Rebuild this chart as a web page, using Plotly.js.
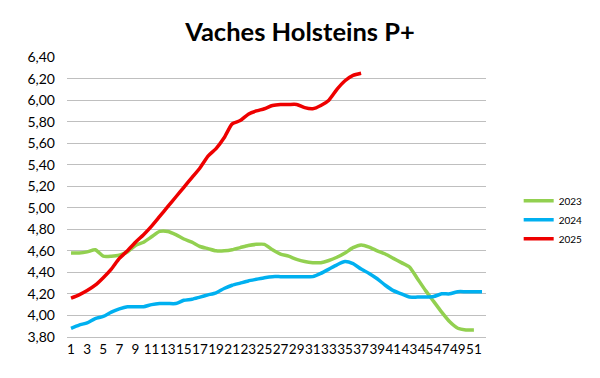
<!DOCTYPE html>
<html>
<head>
<meta charset="utf-8">
<script src="https://cdn.plot.ly/plotly-3.0.1.min.js"></script>
<style>html,body{margin:0;padding:0;background:#fff;}#chart{width:600px;height:378px;}</style>
</head>
<body>
<div id="chart"></div>
<script>
// Weeks
const weeks = Array.from({length: 52}, (_, i) => i + 1);
const tickWeeks = [1,3,5,7,9,11,13,15,17,19,21,23,25,27,29,31,33,35,37,39,41,43,45,47,49,51];

const seriesNames = ['2023', '2024', '2025'];

const values2023 = [4.58,4.58,4.59,4.61,4.55,4.55,4.56,4.59,4.65,4.68,
  4.73,4.78,4.78,4.75,4.71,4.68,4.64,4.62,4.60,4.60,
  4.61,4.63,4.65,4.66,4.66,4.61,4.57,4.55,4.52,4.50,
  4.49,4.49,4.51,4.54,4.58,4.63,4.655,4.635,4.60,4.57,
  4.53,4.49,4.45,4.34,4.23,4.13,4.03,3.94,3.88,3.865,3.865];

const values2024 = [3.88,3.91,3.93,3.97,3.99,4.03,4.06,4.08,4.08,4.08,
  4.10,4.11,4.11,4.11,4.14,4.15,4.17,4.19,4.21,4.25,
  4.28,4.30,4.32,4.335,4.35,4.36,4.36,4.36,4.36,4.36,
  4.36,4.39,4.43,4.47,4.50,4.48,4.43,4.39,4.34,4.28,
  4.23,4.20,4.17,4.17,4.17,4.175,4.20,4.20,4.22,4.22,4.22,4.22];

const values2025 = [4.16,4.19,4.23,4.28,4.35,4.43,4.53,4.60,4.68,4.75,
  4.83,4.92,5.01,5.10,5.19,5.28,5.37,5.48,5.55,5.65,
  5.78,5.81,5.87,5.90,5.92,5.95,5.96,5.96,5.96,5.93,
  5.92,5.95,6.00,6.10,6.18,6.23,6.25];

const colors = ['#92D050', '#00B0F0', '#EE0000'];
const allValues = [values2023, values2024, values2025];

const traces = allValues.map((vals, i) => ({
  type: 'scatter',
  mode: 'lines',
  name: seriesNames[i],
  x: weeks.slice(0, vals.length),
  y: vals,
  line: {color: colors[i], width: 3.5, shape: 'spline', smoothing: 0.6},
  hoverinfo: 'skip'
}));

const layout = {
  width: 600,
  height: 378,
  margin: {l: 67, r: 112, t: 57, b: 41},
  paper_bgcolor: '#ffffff',
  plot_bgcolor: '#ffffff',
  separators: ', ',
  font: {family: 'Lato, "Open Sans", sans-serif', color: '#000000', size: 13},
  title: {
    text: '<b>Vaches Holsteins P+</b>',
    font: {family: 'Lato, "Open Sans", sans-serif', size: 25.5, color: '#000000'},
    x: 0.5, xref: 'container', xanchor: 'center',
    y: 0.915, yref: 'container', yanchor: 'middle'
  },
  xaxis: {
    range: [0.5, 52.5],
    tickmode: 'array',
    tickvals: tickWeeks,
    ticktext: tickWeeks.map(String),
    tickangle: 0,
    showgrid: false,
    zeroline: false,
    showline: true,
    linecolor: '#BFBFBF',
    linewidth: 1,
    ticks: '',
    tickfont: {size: 13.5},
    fixedrange: true
  },
  yaxis: {
    range: [3.799, 6.401],
    tick0: 3.8,
    dtick: 0.2,
    tickformat: '.2f',
    showgrid: true,
    gridcolor: '#BFBFBF',
    gridwidth: 1,
    zeroline: false,
    showline: false,
    ticks: '',
    ticklabelstandoff: 11,
    tickfont: {size: 14},
    fixedrange: true
  },
  showlegend: true,
  legend: {
    x: 1.078, xanchor: 'left',
    y: 0.538, yanchor: 'top',
    font: {size: 10},
    bgcolor: 'rgba(0,0,0,0)',
    tracegroupgap: 0,
    itemwidth: 30
  }
};

Plotly.newPlot('chart', traces, layout, {displayModeBar: false, staticPlot: true});
</script>
</body>
</html>
